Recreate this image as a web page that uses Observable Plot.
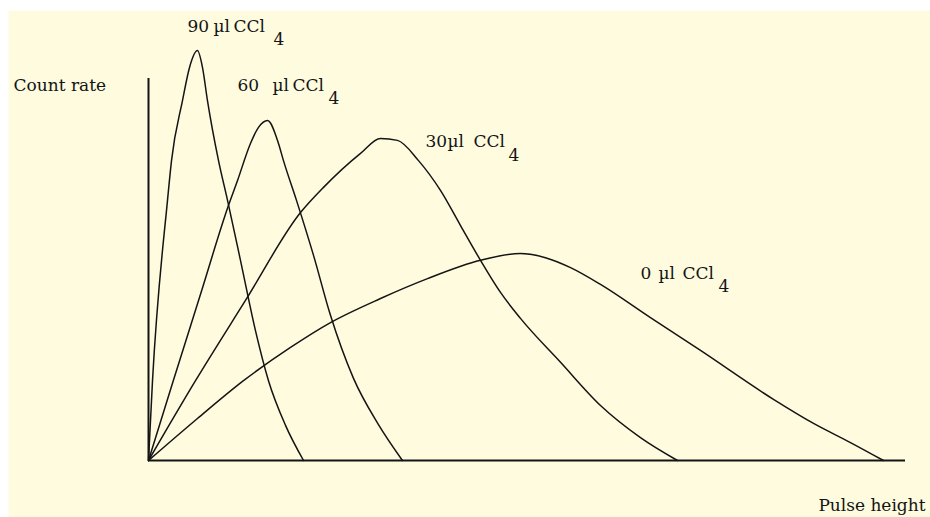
<!DOCTYPE html>
<html>
<head>
<meta charset="utf-8">
<script src="https://cdn.jsdelivr.net/npm/d3@7"></script>
<script src="https://cdn.jsdelivr.net/npm/@observablehq/plot@0.6"></script>
<style>
  html, body { margin: 0; padding: 0; background: #ffffff; }
  #chart { width: 930px; height: 517px; }
</style>
</head>
<body>
<div id="chart"></div>
<script>
// Pulse-height spectra for increasing amounts of CCl4 quencher (arbitrary units).
const volumes = [90, 60, 30, 0]; // µl CCl4

const pulse90 = [0, 0.53, 2.51, 3.04, 4.49, 5.42, 6.47, 7.13, 7.79, 9.25, 10.44, 12.15, 14.13, 15.85, 18.10, 20.48];
const rate90  = [0, 20.9, 68.1, 78.5, 94.2, 102.9, 107.3, 102.9, 94.2, 78.5, 68.1, 52.4, 34.0, 20.9, 9.2, 0];

const pulse60 = [0, 3.17, 6.87, 10.57, 11.76, 13.47, 14.53, 15.72, 17.17, 17.83, 19.55, 21.80, 24.04, 27.08, 30.38, 33.55];
const rate60  = [0, 20.2, 43.5, 66.8, 73.3, 83.0, 87.2, 89.0, 83.0, 78.5, 68.1, 53.7, 38.0, 21.5, 9.4, 0];

const pulse30 = [0, 6.21, 12.81, 20.08, 23.12, 28.01, 30.65, 32.89, 35.67, 38.57, 41.22, 43.86, 46.50, 49.14, 54.43, 59.71, 64.99, 69.88];
const rate30  = [0, 20.9, 41.9, 64.9, 71.5, 80.4, 84.3, 83.8, 78.5, 70.7, 61.5, 52.4, 44.0, 37.2, 25.7, 14.4, 6.0, 0];

const pulse0 = [0, 6.47, 12.55, 18.76, 24.04, 30.65, 36.86, 43.86, 49.14, 52.44, 55.75, 59.71, 66.31, 72.92, 82.56, 87.85, 92.73, 97.09];
const rate0  = [0, 11.0, 20.9, 29.6, 36.1, 42.4, 47.6, 52.4, 54.2, 53.1, 50.5, 46.1, 37.4, 28.8, 16.0, 9.7, 4.7, 0];

const axisLabels = { y: "Count rate", x: "Pulse height" };

// Long table built from the named arrays
const spectra = [
  [90, pulse90, rate90],
  [60, pulse60, rate60],
  [30, pulse30, rate30],
  [0,  pulse0,  rate0]
].flatMap(([v, xs, ys]) => xs.map((x, i) => ({volume: v, pulse: x, rate: ys[i]})));

// Peak of each curve, used to anchor its label
const peaks = volumes.map(v => {
  const rows = spectra.filter(d => d.volume === v);
  return rows.reduce((a, b) => (b.rate > a.rate ? b : a));
});

// Label layout (pixel offsets from each peak): number, µl, CCl and the lowered 4
const labelLayout = {
  90: {num: [-10, -19], mu: 16, ccl: 36, sub: [76, -6]},
  60: {num: [-30, -30], mu: 5,  ccl: 25, sub: [61, -17]},
  30: {num: [45, 9],    mu: 67, ccl: 93, sub: [128, 23]},
  0:  {num: [120, 26],  mu: 138, ccl: 162, sub: [198, 39]}
};

const ink = "#141414";
const font = "DejaVu Serif";
const fs = 17;

function labelPart(text, dxOf, dyOf) {
  return peaks.map(p => Plot.text([p], {
    x: "pulse", y: "rate",
    text: typeof text === "function" ? text : () => text,
    dx: dxOf(labelLayout[p.volume]),
    dy: dyOf(labelLayout[p.volume]),
    textAnchor: "start", lineAnchor: "bottom",
    fontSize: fs, fill: ink
  }));
}

const plot = Plot.plot({
  width: 930,
  height: 517,
  marginLeft: 148,
  marginRight: 25,
  marginTop: 78,
  marginBottom: 57,
  style: {background: "transparent", fontFamily: font, fontSize: fs + "px", color: ink},
  x: {domain: [0, 100], axis: null},
  y: {domain: [0, 100], axis: null},
  marks: [
    // pale paper background
    Plot.frame({fill: "#fefbdf", stroke: "none", insetLeft: -140, insetTop: -68, insetRight: -25, insetBottom: -57}),
    // axes
    Plot.ruleX([0], {y1: 0, y2: 100, stroke: ink, strokeWidth: 2}),
    Plot.ruleY([0], {x1: 0, x2: 100, stroke: ink, strokeWidth: 2}),
    // spectra
    Plot.line(spectra, {x: "pulse", y: "rate", z: "volume", curve: "monotone-x", stroke: ink, strokeWidth: 1.5}),
    // curve labels
    ...labelPart(d => String(d.volume), l => l.num[0], l => l.num[1]),
    ...labelPart("µl", l => l.mu, l => l.num[1]),
    ...labelPart("CCl", l => l.ccl, l => l.num[1]),
    ...labelPart("4", l => l.sub[0], l => l.sub[1]),
    // axis titles
    Plot.text([axisLabels.y], {frameAnchor: "top-left", dx: -135, dy: 12, textAnchor: "start", lineAnchor: "bottom", fontSize: fs, fill: ink}),
    Plot.text([axisLabels.x], {frameAnchor: "bottom-right", dx: 20, dy: 50, textAnchor: "end", lineAnchor: "bottom", fontSize: fs, fill: ink})
  ]
});

document.getElementById("chart").appendChild(plot);
</script>
</body>
</html>
